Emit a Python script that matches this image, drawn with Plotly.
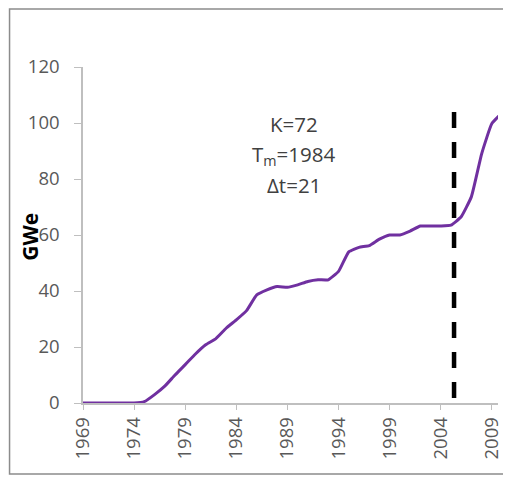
import plotly.graph_objects as go

years = list(range(1969, 2011))
gwe = [0, 0, 0, 0, 0, 0, 0.5, 3, 6, 10, 13.7, 17.5, 20.8, 23, 26.7, 29.7, 33, 38.6,
       40.4, 41.6, 41.3, 42.2, 43.4, 44, 44, 47, 54, 55.6, 56.2, 58.5, 60, 60,
       61.4, 63.2, 63.2, 63.2, 63.5, 66.5, 73.7, 89, 99.8, 103.6]

marker_year = 2005.3
marker_span = [1.8, 106.3]

params = ["K=72", "T<sub>m</sub>=1984", "\u0394t=21"]
params_x = 1989.6
params_y = [99.6, 88.4, 78.0]

FONT = "Open Sans, Liberation Sans, Arial"

fig = go.Figure()
fig.add_trace(go.Scatter(x=years, y=gwe, mode="lines",
                         line=dict(color="#7030a0", width=3, shape="spline", smoothing=0.4),
                         showlegend=False))
fig.add_trace(go.Scatter(x=[marker_year, marker_year], y=marker_span, mode="lines",
                         line=dict(color="black", width=4.5, dash="16px,14px"),
                         showlegend=False))

for t, yy in zip(params, params_y):
    fig.add_annotation(x=params_x, y=yy, text=t, showarrow=False,
                       font=dict(family=FONT, size=20.5, color="#404040"))

# y axis title placed by hand (sits close to the tick labels)
fig.add_annotation(xref="paper", yref="paper", x=-0.1286, y=0.494, text="<b>GWe</b>",
                   textangle=-90, showarrow=False, xanchor="center", yanchor="middle",
                   font=dict(family=FONT, size=21, color="black"))

# chart frame
fig.add_shape(type="rect", xref="paper", yref="paper",
              x0=-0.177, x1=1.2, y0=-0.211, y1=1.1726,
              line=dict(color="#8c8c8c", width=1.5), layer="below")

# page body has an 8px margin, so keep the figure inside the window
fig.update_layout(
    width=495, height=467,
    margin=dict(l=75, r=0, t=59, b=72),
    paper_bgcolor="white", plot_bgcolor="white",
    font=dict(family=FONT, size=18.5, color="#595959"),
)
fig.update_xaxes(range=[1969, 2009.6], tick0=1969, dtick=5, tickangle=-90,
                 showgrid=False, zeroline=False, showline=True, linecolor="#bfbfbf",
                 linewidth=1.5, ticks="outside", ticklen=5, tickcolor="#bfbfbf",
                 ticklabeloverflow="allow",
                 tickfont=dict(size=18.5, color="#595959"))
fig.update_yaxes(range=[0, 120], dtick=20, showgrid=False, zeroline=False,
                 showline=True, linecolor="#bfbfbf", linewidth=1.5,
                 ticks="outside", ticklen=7, tickcolor="#bfbfbf", ticklabelstandoff=11,
                 tickfont=dict(size=18.5, color="#595959"))

fig.write_html("out.html")
